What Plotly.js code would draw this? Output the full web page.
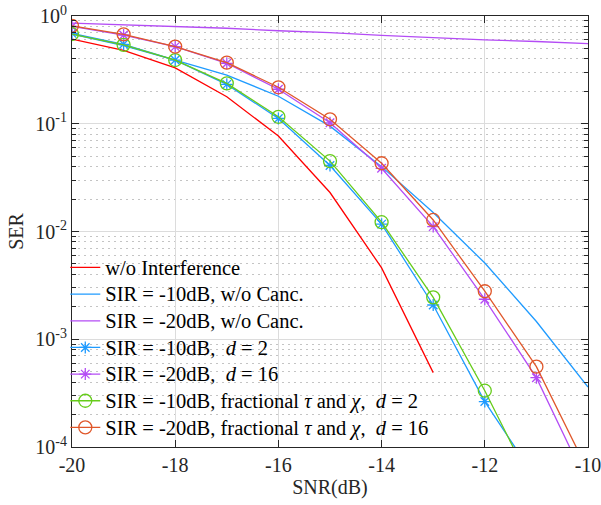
<!DOCTYPE html>
<html>
<head>
<meta charset="utf-8">
<script src="https://cdn.plot.ly/plotly-3.0.1.min.js"></script>
<style>html,body{margin:0;padding:0;background:#fff;}#chart{width:601px;height:505px;}</style>
</head>
<body>
<div id="chart"></div>
<script>
// SNR values (dB)
const snr = [-20, -19, -18, -17, -16, -15, -14, -13, -12, -11, -10];
const snrNoInt = [-20, -19, -18, -17, -16, -15, -14, -13];

// SER values
const serNoInterference = [0.61, 0.48, 0.33, 0.178, 0.077, 0.023, 0.0046, 0.00049];
const serSir10NoCanc    = [0.68, 0.53, 0.39, 0.283, 0.18, 0.095, 0.040, 0.0150, 0.0051, 0.00146, 0.00036];
const serSir20NoCanc    = [0.86, 0.83, 0.80, 0.77, 0.73, 0.70, 0.66, 0.625, 0.60, 0.58, 0.555];
const serSir10d2        = [0.69, 0.546, 0.39, 0.232, 0.112, 0.041, 0.0117, 0.00208, 0.000264, 0.00005];
const serSir20d16       = [0.80, 0.666, 0.52, 0.364, 0.209, 0.102, 0.0386, 0.0111, 0.00235, 0.00044, 0.000044];
const serSir10Frac      = [0.68, 0.54, 0.39, 0.237, 0.116, 0.045, 0.0122, 0.00245, 0.000333, 0.000037];
const serSir20Frac      = [0.81, 0.676, 0.52, 0.369, 0.218, 0.110, 0.043, 0.0128, 0.00279, 0.000557, 0.00006];

// legend labels
const names = [
  'w/o Interference',
  'SIR = -10dB, w/o Canc.',
  'SIR = -20dB, w/o Canc.',
  'SIR = -10dB,  <i>d</i> = 2',
  'SIR = -20dB,  <i>d</i> = 16',
  'SIR = -10dB, fractional <i>τ</i> and <i>χ</i>,  <i>d</i> = 2',
  'SIR = -20dB, fractional <i>τ</i> and <i>χ</i>,  <i>d</i> = 16'
];

// tick labels
const yTickVals = [1e-4, 1e-3, 1e-2, 1e-1, 1];
const yTickText = ['10<sup>-4</sup>', '10<sup>-3</sup>', '10<sup>-2</sup>', '10<sup>-1</sup>', '10<sup>0</sup>'];
const xTickVals = [-20, -18, -16, -14, -12, -10];
const xTickText = ['-20', '-18', '-16', '-14', '-12', '-10'];

const cRed = '#ff0000', cBlue = '#1f9bff', cPurple = '#b44cf5', cGreen = '#66cc1a', cOrange = '#e0572a';
const lw = 1.3;
const fam = '"Liberation Serif", "Times New Roman", serif';

const minorVals = [];
for (let e = -4; e < 0; e++) for (let m = 2; m <= 9; m++) minorVals.push(m * Math.pow(10, e));

const lbl = s => '<span style="font-size:20.5px">' + s + '</span>';

const traces = [
  {x: snrNoInt, y: serNoInterference, name: lbl(names[0]), mode: 'lines', line: {color: cRed, width: lw}},
  {x: snr, y: serSir10NoCanc, name: lbl(names[1]), mode: 'lines', line: {color: cBlue, width: lw}},
  {x: snr, y: serSir20NoCanc, name: lbl(names[2]), mode: 'lines', line: {color: cPurple, width: lw}},
  {x: snr.slice(0, serSir10d2.length), y: serSir10d2, name: lbl(names[3]), mode: 'lines+markers',
   line: {color: cBlue, width: lw}, marker: {symbol: 'asterisk-open', size: 10, color: cBlue, line: {color: cBlue, width: 1.3}}},
  {x: snr, y: serSir20d16, name: lbl(names[4]), mode: 'lines+markers',
   line: {color: cPurple, width: lw}, marker: {symbol: 'asterisk-open', size: 10, color: cPurple, line: {color: cPurple, width: 1.3}}},
  {x: snr.slice(0, serSir10Frac.length), y: serSir10Frac, name: lbl(names[5]), mode: 'lines+markers',
   line: {color: cGreen, width: lw}, marker: {symbol: 'circle-open', size: 13, color: cGreen, line: {color: cGreen, width: 1.3}}},
  {x: snr, y: serSir20Frac, name: lbl(names[6]), mode: 'lines+markers',
   line: {color: cOrange, width: lw}, marker: {symbol: 'circle-open', size: 13, color: cOrange, line: {color: cOrange, width: 1.3}}}
];

const tf = {family: fam, size: 20, color: '#262626'};

const layout = {
  width: 601, height: 505,
  margin: {l: 72, r: 13, t: 16, b: 58, pad: 0},
  paper_bgcolor: '#ffffff', plot_bgcolor: '#ffffff',
  font: tf,
  showlegend: true,
  legend: {x: -0.013, y: 0.002, xanchor: 'left', yanchor: 'bottom', bgcolor: 'rgba(0,0,0,0)',
           borderwidth: 0, font: {family: fam, size: 18.2, color: '#000'}, itemwidth: 30, tracegroupgap: 0},
  xaxis: {
    range: [-20, -10], tickmode: 'array', tickvals: xTickVals, ticktext: xTickText,
    ticks: 'inside', ticklen: 7, tickcolor: '#262626', tickwidth: 1, ticklabeloverflow: 'allow',
    showline: true, linecolor: '#262626', linewidth: 1, mirror: 'ticks',
    showgrid: true, gridcolor: '#dcdcdc', gridwidth: 1, zeroline: false,
    tickfont: tf,
    title: {text: 'SNR(dB)', font: tf, standoff: 4}
  },
  yaxis: {
    type: 'log', range: [-4, 0], tickmode: 'array', tickvals: yTickVals, ticktext: yTickText,
    ticks: 'inside', ticklen: 7, tickcolor: '#262626', tickwidth: 1, ticklabeloverflow: 'allow',
    showline: true, linecolor: '#262626', linewidth: 1, mirror: 'ticks',
    showgrid: true, gridcolor: '#dcdcdc', gridwidth: 1, zeroline: false,
    tickfont: tf,
    minor: {tickmode: 'array', tickvals: minorVals, ticks: 'inside', ticklen: 4, tickcolor: '#262626',
            showgrid: true, gridcolor: '#c4c4c4', griddash: '2px,4px', gridwidth: 1},
    title: {text: 'SER', font: tf, standoff: 6}
  }
};

Plotly.newPlot('chart', traces, layout, {displayModeBar: false, staticPlot: true});
</script>
</body>
</html>
